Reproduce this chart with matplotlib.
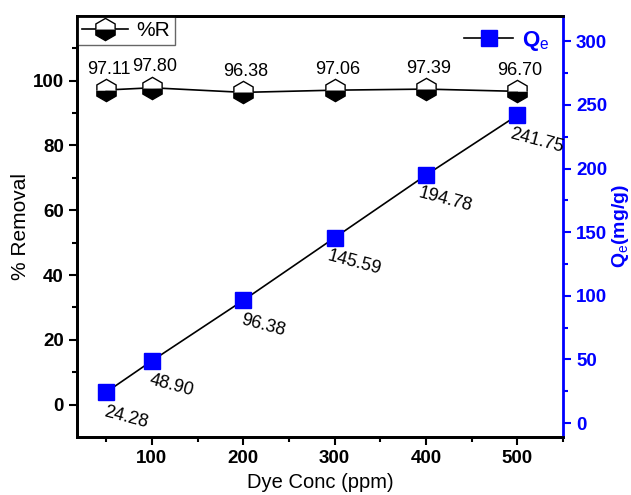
import matplotlib.pyplot as plt
from matplotlib.ticker import MultipleLocator

plt.rcParams['font.family'] = ['Liberation Sans', 'DejaVu Sans']
plt.rcParams['mathtext.fontset'] = 'custom'
plt.rcParams['mathtext.rm'] = 'Liberation Sans'
plt.rcParams['mathtext.it'] = 'Liberation Sans'
plt.rcParams['mathtext.bf'] = 'Liberation Sans:bold'

# data
dye_conc = [50, 100, 200, 300, 400, 500]
removal = [97.11, 97.80, 96.38, 97.06, 97.39, 96.70]
qe = [24.28, 48.90, 96.38, 145.59, 194.78, 241.75]
removal_labels = ['97.11', '97.80', '96.38', '97.06', '97.39', '96.70']
qe_labels = ['24.28', '48.90', '96.38', '145.59', '194.78', '241.75']

fig = plt.figure(figsize=(6.31, 4.95), dpi=100)
ax = fig.add_axes([0.122, 0.117, 0.770, 0.851])
ax2 = ax.twinx()

# %R on left axis
l1, = ax.plot(dye_conc, removal, color='black', lw=1.2, marker='h', ms=16,
              fillstyle='bottom', markerfacecolor='black',
              markerfacecoloralt='white', markeredgecolor='black',
              markeredgewidth=1.0, label='%R')
for x, y, t in zip(dye_conc, removal, removal_labels):
    ax.annotate(t, (x, y), xytext=(2, 15), textcoords='offset points',
                ha='center', va='center', fontsize=13)

# Qe on right axis
l2, = ax2.plot(dye_conc, qe, color='black', lw=1.2, marker='s', ms=11,
               markerfacecolor='blue', markeredgecolor='blue', label='Q$_e$')
for x, y, t in zip(dye_conc, qe, qe_labels):
    ax2.annotate(t, (x, y), xytext=(14, -18), textcoords='offset points',
                 ha='center', va='center', fontsize=13, rotation=-15)

ax.set_xlim(18, 550)
ax.set_ylim(-10, 120)
ax2.set_ylim(-11, 320)

ax.set_xticks([100, 200, 300, 400, 500])
ax.xaxis.set_minor_locator(MultipleLocator(50))
ax.set_yticks([0, 20, 40, 60, 80, 100])
ax.set_yticks(range(10, 120, 20), minor=True)
ax2.set_yticks([0, 50, 100, 150, 200, 250, 300])
ax2.set_yticks(range(25, 300, 50), minor=True)

for a in (ax, ax2):
    a.tick_params(which='major', direction='out', length=6, width=1.5,
                  labelsize=13.5)
    a.tick_params(which='minor', direction='out', length=3.5, width=1.5)
ax.tick_params(axis='x', which='both', top=False)
for lab in ax.get_xticklabels() + ax.get_yticklabels():
    lab.set_fontweight('bold')
ax2.tick_params(axis='y', which='both', colors='blue')
for lab in ax2.get_yticklabels():
    lab.set_fontweight('bold')
    lab.set_color('blue')

for s in ('left', 'top', 'bottom'):
    ax.spines[s].set_linewidth(2)
    ax2.spines[s].set_linewidth(2)
ax2.spines['right'].set_linewidth(2)
ax2.spines['right'].set_color('blue')
ax.spines['right'].set_visible(False)

ax.set_xlabel('Dye Conc (ppm)', fontsize=14.5, labelpad=4)
ax.set_ylabel('% Removal', fontsize=15, labelpad=2)
ax2.set_ylabel('Q$_e$(mg/g)', fontsize=14, color='blue', fontweight='bold',
               labelpad=2)

leg1 = ax.legend(handles=[l1], loc='upper left', borderaxespad=0,
                 fontsize=15, fancybox=False, edgecolor='0.4',
                 handlelength=2.2, handletextpad=0.4, borderpad=0.25,
                 framealpha=1)
leg1.get_frame().set_linewidth(1)
leg2 = ax2.legend(handles=[l2], loc='upper right', frameon=False,
                  fontsize=16, handlelength=2.2, handletextpad=0.4,
                  borderaxespad=0.2)
for t in leg2.get_texts():
    t.set_color('blue')
    t.set_fontweight('bold')

fig.savefig('out.png', dpi=100)
